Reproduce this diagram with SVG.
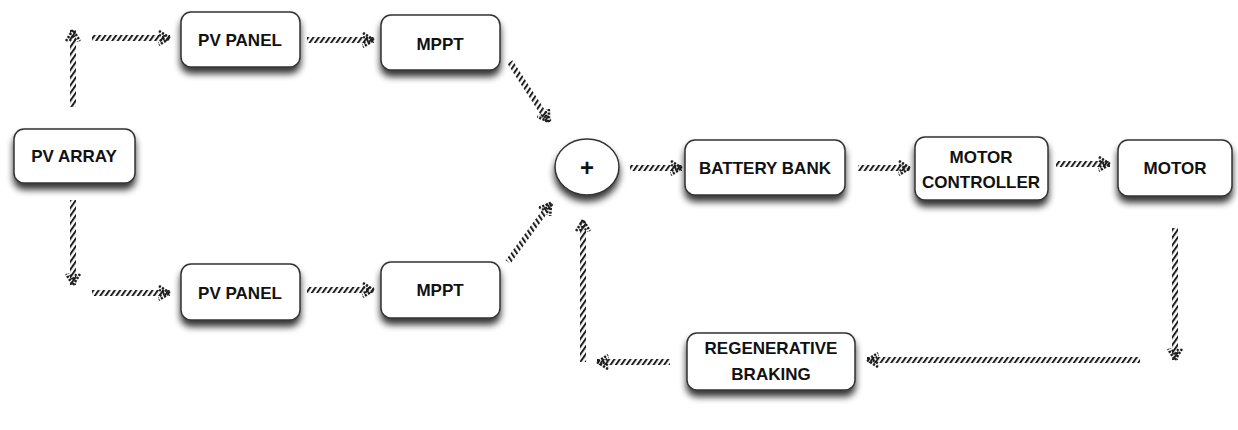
<svg xmlns="http://www.w3.org/2000/svg" width="1238" height="430" viewBox="0 0 1238 430">
<defs>
  <pattern id="hatch" patternUnits="userSpaceOnUse" width="4.4" height="4.4" patternTransform="rotate(35)">
    <rect x="0" y="0" width="2" height="4.4" fill="#1e1e1e"/>
  </pattern>
  <pattern id="hatch2" patternUnits="userSpaceOnUse" width="4.4" height="4.4" patternTransform="rotate(-35)">
    <rect x="0" y="0" width="2" height="4.4" fill="#1e1e1e"/>
  </pattern>
  <filter id="shadow" x="-20%" y="-30%" width="140%" height="170%">
    <feGaussianBlur in="SourceAlpha" stdDeviation="3.5"/>
    <feOffset dx="0" dy="6" result="b"/>
    <feComponentTransfer><feFuncA type="linear" slope="0.8"/></feComponentTransfer>
    <feMerge><feMergeNode/><feMergeNode in="SourceGraphic"/></feMerge>
  </filter>
  <marker id="arr" viewBox="0 0 14 16" refX="12" refY="8" markerWidth="14" markerHeight="16" markerUnits="userSpaceOnUse" orient="auto">
    <path d="M1,1 L12,8 L1,15" fill="none" stroke="#1e1e1e" stroke-width="2.6" stroke-dasharray="2.2 1.4"/>
    <path d="M-2,3 L7,8 L-2,13" fill="none" stroke="#1e1e1e" stroke-width="2.2" stroke-dasharray="2 1.6"/>
  </marker>
</defs>
<style>
  .node rect, .node ellipse { fill:#fff; stroke:#333; stroke-width:1.5; filter:url(#shadow); }
  .node text { font-family:"Liberation Sans", Arial, sans-serif; font-weight:bold; font-size:17px; fill:#111; text-anchor:middle; dominant-baseline:central; }
  .conn path { fill:none; stroke:url(#hatch); stroke-width:6; marker-end:url(#arr); }
  .conn path.alt { stroke:url(#hatch2); }
</style>
<rect width="1238" height="430" fill="#fff"/>

<g id="connectors" class="conn">
  <path d="M73,107 L73,30"/>
  <path d="M92,38 L170,38"/>
  <path d="M73,200 L73,285"/>
  <path d="M92,293 L170,293"/>
  <path d="M307,40 L374,40"/>
  <path d="M307,290 L374,290"/>
  <path d="M510,62 L549,122"/>
  <path class="alt" d="M508,262 L551,203"/>
  <path d="M630,168 L682,168"/>
  <path d="M858,168 L910,168"/>
  <path d="M1056,164 L1110,164"/>
  <path d="M1175,228 L1175,360"/>
  <path d="M1140,360 L867,360"/>
  <path d="M670,362 L597,362"/>
  <path d="M583,362 L583,220"/>
</g>

<g id="pv-array" class="node"><rect x="14" y="129" width="121" height="54" rx="10"/><text x="74" y="156">PV ARRAY</text></g>
<g id="pv-panel-1" class="node"><rect x="181" y="12" width="119" height="55" rx="10"/><text x="240" y="40">PV PANEL</text></g>
<g id="mppt-1" class="node"><rect x="381" y="15" width="119" height="55" rx="10"/><text x="440" y="44">MPPT</text></g>
<g id="pv-panel-2" class="node"><rect x="181" y="264" width="119" height="56" rx="10"/><text x="240" y="293">PV PANEL</text></g>
<g id="mppt-2" class="node"><rect x="381" y="262" width="119" height="56" rx="10"/><text x="440" y="290">MPPT</text></g>
<g id="sum" class="node"><ellipse cx="587" cy="167" rx="32" ry="28"/><text x="587" y="167" style="font-size:24px">+</text></g>
<g id="battery-bank" class="node"><rect x="685" y="140" width="160" height="55" rx="10"/><text x="765" y="168">BATTERY BANK</text></g>
<g id="motor-controller" class="node"><rect x="915" y="137" width="133" height="63" rx="10"/><text x="981" y="157">MOTOR</text><text x="981" y="182">CONTROLLER</text></g>
<g id="motor" class="node"><rect x="1118" y="140" width="114" height="56" rx="10"/><text x="1175" y="168">MOTOR</text></g>
<g id="regenerative-braking" class="node"><rect x="687" y="333" width="168" height="57" rx="10"/><text x="771" y="348">REGENERATIVE</text><text x="771" y="374">BRAKING</text></g>
</svg>
